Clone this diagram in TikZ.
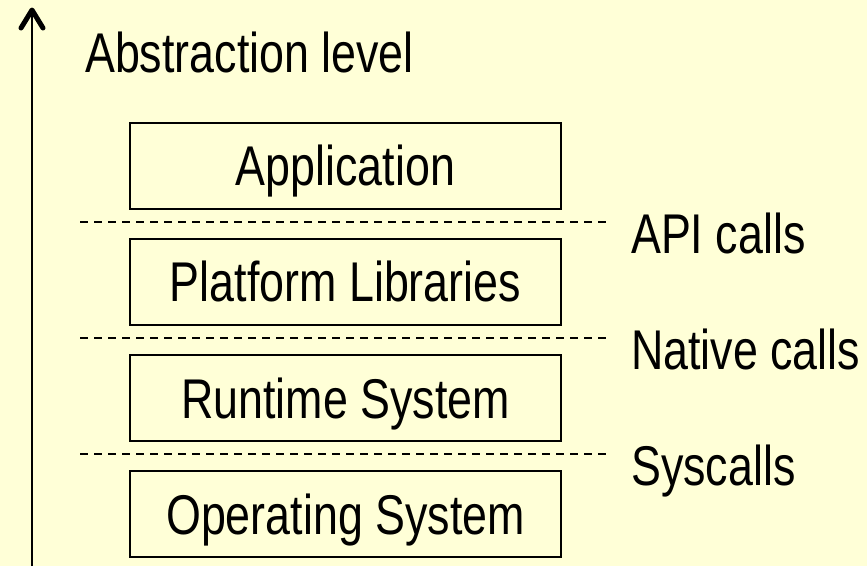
\documentclass[tikz,border=0pt]{standalone}
\usepackage{fontspec}
\setmainfont[FakeStretch=0.8]{Liberation Sans}
\usetikzlibrary{arrows.meta}
\definecolor{bg}{RGB}{255,255,215}
\begin{document}
\begin{tikzpicture}[x=1pt,y=-1pt,
  lbl/.style={font=\fontsize{56}{60}\selectfont, inner sep=0pt},
  layer/.style={draw=black, line width=2pt, fill=bg, minimum width=431pt, minimum height=86pt,
    text height=40pt, text depth=0pt, inner sep=0pt, font=\fontsize{56}{60}\selectfont},
  sep/.style={line width=2pt, dash pattern=on 8pt off 6pt},
  barb/.style={line width=5pt, line cap=round, line join=round}]
\useasboundingbox[fill=bg] (0,0) rectangle (867,566);
% axis
\coordinate (axb) at (32,566);
\coordinate (axt) at (32,10);
\coordinate (bl) at (21,28);
\coordinate (br) at (43,28);
\draw[line width=2.4pt] (axb) -- (axt);
\draw[barb] (bl) -- (axt) -- (br);
\node[lbl, anchor=base west] (abs) at (85,72) {Abstraction level};
% layers
\node[layer] (app) at (345.5,165.5) {Application};
\node[layer] (plat) at (345.5,281.5) {Platform Libraries};
\node[layer] (rt) at (345.5,398) {Runtime System};
\node[layer] (os) at (345.5,514) {Operating System};
% separators
\coordinate (s1a) at (80,221.5); \coordinate (s1b) at (611,221.5);
\coordinate (s2a) at (80,337.5); \coordinate (s2b) at (611,337.5);
\coordinate (s3a) at (80,454); \coordinate (s3b) at (611,454);
\draw[sep] (s1a) -- (s1b);
\draw[sep] (s2a) -- (s2b);
\draw[sep] (s3a) -- (s3b);
\node[lbl, anchor=base west] (api) at (631,253) {API calls};
\node[lbl, anchor=base west] (nat) at (631,369) {Native calls};
\node[lbl, anchor=base west] (sys) at (631,485) {Syscalls};
\end{tikzpicture}
\end{document}
